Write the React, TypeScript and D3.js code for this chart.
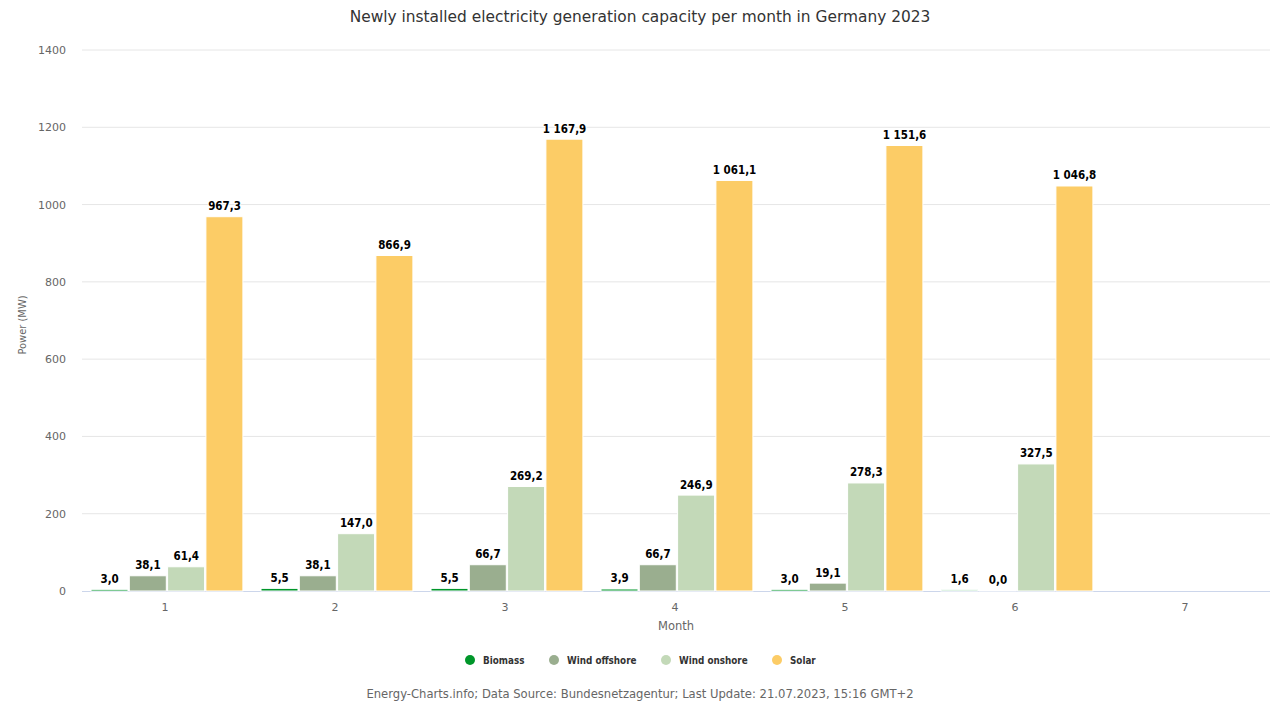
import React from "react";
import * as d3 from "d3";

const months = ["1", "2", "3", "4", "5", "6", "7"];
const seriesNames = ["Biomass", "Wind offshore", "Wind onshore", "Solar"];
const seriesColors = ["#00962a", "#9aae8f", "#c3d9b8", "#fccc66"];
const biomass = [3.0, 5.5, 5.5, 3.9, 3.0, 1.6];
const windOffshore = [38.1, 38.1, 66.7, 66.7, 19.1, 0.0];
const windOnshore = [61.4, 147.0, 269.2, 246.9, 278.3, 327.5];
const solar = [967.3, 866.9, 1167.9, 1061.1, 1151.6, 1046.8];
const yTicks = [0, 200, 400, 600, 800, 1000, 1200, 1400];

const W = 1280;
const H = 720;
const FONT = "'DejaVu Sans', sans-serif";
const FONT_C = "'DejaVu Sans Condensed', 'DejaVu Sans', sans-serif";

function fmt(v: number): string {
  const s = v.toFixed(1);
  const [i, d] = s.split(".");
  const ii = i.replace(/\B(?=(\d{3})+(?!\d))/g, " ");
  return ii + "," + d;
}

export default function App() {
  const plotLeft = 82;
  const plotRight = 1270;
  const plotTop = 50;
  const plotBottom = 591;

  const x = d3.scaleBand<string>().domain(months).range([80, 1270]).paddingInner(0).paddingOuter(0);
  const inner = d3.scaleBand<string>().domain(seriesNames).range([10.5, 163.7]).padding(0);
  const y = d3.scaleLinear().domain([0, 1400]).range([plotBottom, plotTop]);

  const allSeries = [biomass, windOffshore, windOnshore, solar];

  return (
    <svg width={W} height={H} style={{ display: "block", position: "absolute", left: 0, top: 0 }} fontFamily={FONT}>
      <rect x={0} y={0} width={W} height={H} fill="#ffffff" />
      <text x={640} y={22} textAnchor="middle" fontSize={15.4} fill="#333333">
        Newly installed electricity generation capacity per month in Germany 2023
      </text>
      {yTicks.map((t) => (
        <g key={t}>
          {t !== 0 && (
            <line x1={plotLeft} x2={plotRight} y1={y(t)} y2={y(t)} stroke="#e6e6e6" strokeWidth={1} />
          )}
          <text x={66} y={y(t) + 4} textAnchor="end" fontSize={11} fill="#666666">
            {t}
          </text>
        </g>
      ))}
      <line x1={plotLeft} x2={plotRight} y1={plotBottom + 0.5} y2={plotBottom + 0.5} stroke="#ccd6eb" strokeWidth={1} />
      {months.map((m) => (
        <text key={m} x={(x(m) as number) + x.bandwidth() / 2} y={611} textAnchor="middle" fontSize={11} fill="#666666">
          {m}
        </text>
      ))}
      <text
        transform={`translate(26, 325) rotate(-90)`}
        textAnchor="middle"
        fontSize={11}
        fill="#666666"
        fontFamily={FONT_C}
      >
        Power (MW)
      </text>
      <text x={676} y={630} textAnchor="middle" fontSize={11.5} fill="#666666">
        Month
      </text>
      {allSeries.map((vals, si) =>
        vals.map((v, mi) => {
          const bx = (x(months[mi]) as number) + (inner(seriesNames[si]) as number);
          const bw = inner.bandwidth();
          const top = y(v);
          return (
            <rect
              key={`${si}-${mi}`}
              x={bx + 0.5}
              y={top - 0.5}
              width={bw - 1.3}
              height={plotBottom - top + 0.5}
              fill={seriesColors[si]}
              stroke="#ffffff"
              strokeWidth={1}
            />
          );
        })
      )}
      {allSeries.map((vals, si) =>
        vals.map((v, mi) => {
          const bx = (x(months[mi]) as number) + (inner(seriesNames[si]) as number);
          const bw = inner.bandwidth();
          const top = y(v);
          return (
            <text
              key={`l${si}-${mi}`}
              x={bx + bw / 2}
              y={top - 7}
              textAnchor="middle"
              fontSize={11.5}
              fontWeight="bold"
              fontFamily={FONT_C}
              fill="#000000"
              stroke="#ffffff"
              strokeWidth={2}
              paintOrder="stroke"
              strokeLinejoin="round"
            >
              {fmt(v)}
            </text>
          );
        })
      )}
      {seriesNames.map((n, i) => {
        const xs = [470, 554, 666, 777];
        return (
          <g key={n}>
            <circle cx={xs[i]} cy={660} r={5} fill={seriesColors[i]} />
            <text x={xs[i] + 13} y={664} fontSize={9.8} fontWeight="bold" fill="#333333" fontFamily={FONT_C}>
              {n}
            </text>
          </g>
        );
      })}
      <text x={640} y={698} textAnchor="middle" fontSize={11.6} fill="#666666">
        Energy-Charts.info; Data Source: Bundesnetzagentur; Last Update: 21.07.2023, 15:16 GMT+2
      </text>
    </svg>
  );
}
